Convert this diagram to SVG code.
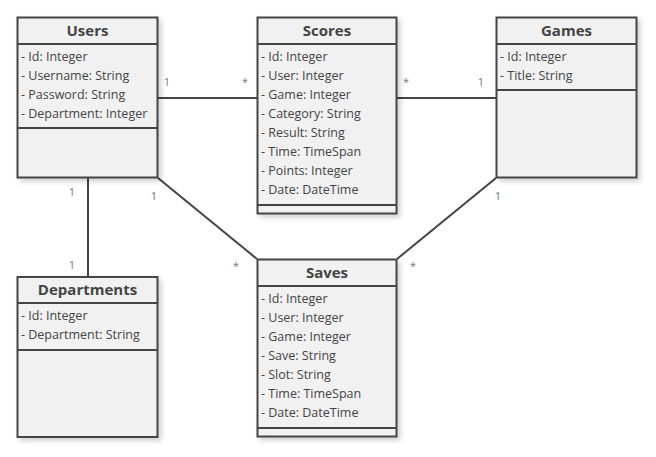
<svg xmlns="http://www.w3.org/2000/svg" width="656" height="457" viewBox="0 0 656 457">
<defs>
<filter id="sh" x="-10%" y="-10%" width="130%" height="130%">
<feDropShadow dx="3" dy="3" stdDeviation="2.5" flood-color="#000" flood-opacity="0.18"/>
</filter>
<style>
.box{fill:#f1f1f1;stroke:#444;stroke-width:2;filter:url(#sh)}
.ln{stroke:#444;stroke-width:2;fill:none}
.t{font-family:"Open Sans","Noto Sans",sans-serif;font-size:15px;font-weight:bold;fill:#444;text-anchor:middle}
.a{font-family:"Open Sans","Noto Sans",sans-serif;font-size:12.5px;fill:#444}
.m{font-family:"Open Sans","Noto Sans",sans-serif;font-size:11px;fill:#777;text-anchor:middle}
</style>
</defs>
<rect width="656" height="457" fill="#fff"/>
<g id="connectors">
<line class="ln" x1="158" y1="98" x2="257" y2="98"/>
<line class="ln" x1="397" y1="98" x2="496" y2="98"/>
<line class="ln" x1="88" y1="178" x2="88" y2="277"/>
<line class="ln" x1="158" y1="178" x2="257" y2="259"/>
<line class="ln" x1="496" y1="178" x2="397" y2="259"/>
<text class="m" x="167" y="86">1</text>
<text class="m" x="245" y="86">*</text>
<text class="m" x="406" y="86">*</text>
<text class="m" x="481" y="86">1</text>
<text class="m" x="72" y="196">1</text>
<text class="m" x="72" y="269">1</text>
<text class="m" x="154" y="200">1</text>
<text class="m" x="236" y="270">*</text>
<text class="m" x="498" y="200">1</text>
<text class="m" x="413" y="270">*</text>
</g>
<g id="users">
<rect class="box" x="17.5" y="17.5" width="140" height="160"/>
<line class="ln" x1="17.5" y1="44" x2="157.5" y2="44"/>
<line class="ln" x1="17.5" y1="128" x2="157.5" y2="128"/>
<text class="t" x="87.5" y="36">Users</text>
<text class="a" x="21" y="61">- Id: Integer</text>
<text class="a" x="21" y="80">- Username: String</text>
<text class="a" x="21" y="99">- Password: String</text>
<text class="a" x="21" y="118">- Department: Integer</text>
</g>
<g id="scores">
<rect class="box" x="257.5" y="17.5" width="139" height="196"/>
<line class="ln" x1="257.5" y1="44" x2="396.5" y2="44"/>
<line class="ln" x1="257.5" y1="205" x2="396.5" y2="205"/>
<text class="t" x="327" y="36">Scores</text>
<text class="a" x="261" y="61">- Id: Integer</text>
<text class="a" x="261" y="80">- User: Integer</text>
<text class="a" x="261" y="99">- Game: Integer</text>
<text class="a" x="261" y="118">- Category: String</text>
<text class="a" x="261" y="137">- Result: String</text>
<text class="a" x="261" y="156">- Time: TimeSpan</text>
<text class="a" x="261" y="175">- Points: Integer</text>
<text class="a" x="261" y="194">- Date: DateTime</text>
</g>
<g id="games">
<rect class="box" x="496.5" y="17.5" width="140" height="160"/>
<line class="ln" x1="496.5" y1="44" x2="636.5" y2="44"/>
<line class="ln" x1="496.5" y1="90" x2="636.5" y2="90"/>
<text class="t" x="566.5" y="36">Games</text>
<text class="a" x="500" y="61">- Id: Integer</text>
<text class="a" x="500" y="80">- Title: String</text>
</g>
<g id="departments">
<rect class="box" x="17.5" y="277" width="140" height="160"/>
<line class="ln" x1="17.5" y1="303" x2="157.5" y2="303"/>
<line class="ln" x1="17.5" y1="350" x2="157.5" y2="350"/>
<text class="t" x="87.5" y="295">Departments</text>
<text class="a" x="21" y="320">- Id: Integer</text>
<text class="a" x="21" y="339">- Department: String</text>
</g>
<g id="saves">
<rect class="box" x="257.5" y="259.5" width="139" height="177"/>
<line class="ln" x1="257.5" y1="286" x2="396.5" y2="286"/>
<line class="ln" x1="257.5" y1="428" x2="396.5" y2="428"/>
<text class="t" x="327" y="278">Saves</text>
<text class="a" x="261" y="303">- Id: Integer</text>
<text class="a" x="261" y="322">- User: Integer</text>
<text class="a" x="261" y="341">- Game: Integer</text>
<text class="a" x="261" y="360">- Save: String</text>
<text class="a" x="261" y="379">- Slot: String</text>
<text class="a" x="261" y="398">- Time: TimeSpan</text>
<text class="a" x="261" y="417">- Date: DateTime</text>
</g>
</svg>
